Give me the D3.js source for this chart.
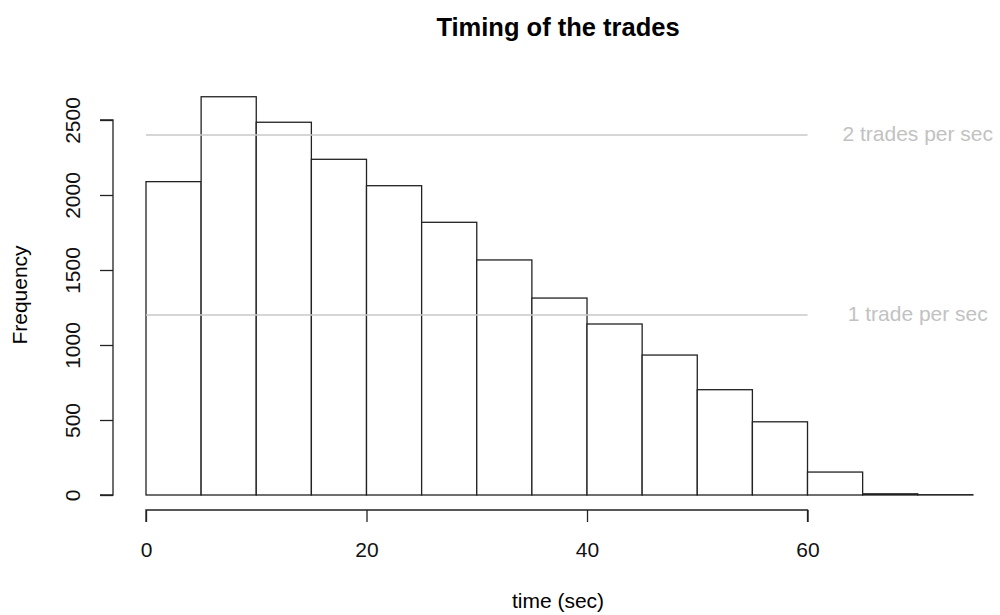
<!DOCTYPE html>
<html>
<head>
<meta charset="utf-8">
<script src="https://cdn.jsdelivr.net/npm/d3@7"></script>
<style>
  html, body { margin: 0; padding: 0; background: #fff; }
  svg text { font-family: "Liberation Sans", Arial, Helvetica, sans-serif; }
</style>
</head>
<body>
<svg id="chart" width="1000" height="615"></svg>
<script>
// Histogram bins (seconds) and counts
const binStarts = [0, 5, 10, 15, 20, 25, 30, 35, 40, 45, 50, 55, 60, 65, 70];
const binWidth = 5;
const counts = [2089, 2655, 2485, 2238, 2062, 1818, 1567, 1313, 1140, 933, 702, 488, 153, 8, 2];

// Axis ticks
const xTicks = [0, 20, 40, 60];
const yTicks = [0, 500, 1000, 1500, 2000, 2500];

// Reference rates
const refLevels = [2400, 1200];
const refLabels = ["2 trades per sec", "1 trade per sec"];
const refLabelAt = 70;

const baseFont = 21;

const svg = d3.select("#chart");

const x = d3.scaleLinear().domain([0, 75]).range([146, 972.9]);
const y = d3.scaleLinear().domain([0, 2500]).range([495, 120]);

// Title
svg.append("text")
  .attr("x", 558).attr("y", 36)
  .attr("text-anchor", "middle")
  .attr("font-weight", "bold")
  .attr("font-size", 25.5)
  .text("Timing of the trades");

// Bars
svg.append("g").selectAll("rect")
  .data(binStarts.map((s, i) => ({ s, c: counts[i] })))
  .join("rect")
  .attr("x", d => x(d.s))
  .attr("width", d => x(d.s + binWidth) - x(d.s))
  .attr("y", d => y(d.c))
  .attr("height", d => y(0) - y(d.c))
  .attr("fill", "#fff")
  .attr("stroke", "#222")
  .attr("stroke-width", 1.3);

// Reference lines and labels
const refG = svg.append("g");
refLevels.forEach((lv, i) => {
  refG.append("line")
    .attr("x1", x(0)).attr("x2", x(60))
    .attr("y1", y(lv)).attr("y2", y(lv))
    .attr("stroke", "#c8c8c8").attr("stroke-width", 1.5);
  refG.append("text")
    .attr("x", x(refLabelAt)).attr("y", y(lv) + 6)
    .attr("text-anchor", "middle")
    .attr("font-size", baseFont)
    .attr("fill", "#c2c2c2")
    .text(refLabels[i]);
});

// X axis
const xAxis = d3.axisBottom(x).tickValues(xTicks).tickSize(12).tickPadding(14)
  .tickFormat(d3.format("d"));
const xg = svg.append("g").attr("transform", "translate(0,510)").call(xAxis);
xg.select(".domain").attr("d", `M${x(0)},12V0H${x(60)}V12`)
  .attr("stroke", "#222").attr("stroke-width", 1.3);
xg.selectAll(".tick line").attr("stroke", "#222").attr("stroke-width", 1.3);
xg.selectAll(".tick text")
  .attr("y", 47).attr("dy", null)
  .attr("font-size", baseFont).attr("fill", "#111")
  .style("font-family", "'Liberation Sans', Arial, sans-serif");

// Y axis
const yAxis = d3.axisLeft(y).tickValues(yTicks).tickSize(13).tickPadding(0)
  .tickFormat(d3.format("d"));
const yg = svg.append("g").attr("transform", "translate(113,0)").call(yAxis);
yg.select(".domain").attr("d", `M-13,${y(0)}H0V${y(2500)}H-13`)
  .attr("stroke", "#222").attr("stroke-width", 1.3);
yg.selectAll(".tick line").attr("stroke", "#222").attr("stroke-width", 1.3);
yg.selectAll(".tick text")
  .attr("x", null).attr("dy", null)
  .attr("transform", "translate(-40,0) rotate(-90)")
  .attr("text-anchor", "middle")
  .attr("y", 0).attr("dy", "0.35em")
  .attr("font-size", baseFont).attr("fill", "#111")
  .style("font-family", "'Liberation Sans', Arial, sans-serif");

// Axis titles
svg.append("text")
  .attr("x", 558).attr("y", 608)
  .attr("text-anchor", "middle")
  .attr("font-size", baseFont)
  .text("time (sec)");

svg.append("text")
  .attr("transform", "translate(27,295) rotate(-90)")
  .attr("text-anchor", "middle")
  .attr("font-size", baseFont)
  .text("Frequency");
</script>
</body>
</html>
